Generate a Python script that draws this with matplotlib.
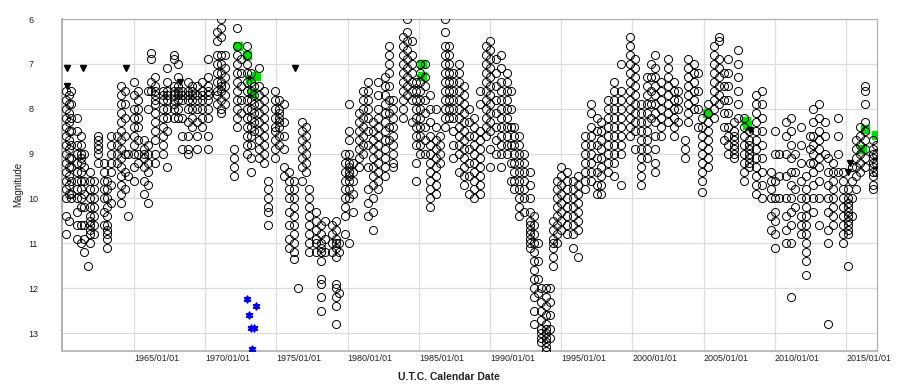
import matplotlib
matplotlib.use("Agg")
import matplotlib.pyplot as plt

plt.rcParams['font.family'] = ['Liberation Sans', 'DejaVu Sans']

# ---- visual observations: each column = (date in decimal years, magnitudes) ----
col_dates = [
    1960.2, 1960.4, 1960.6,
    1961.0, 1961.25, 1961.5, 1961.8,
    1961.9, 1962.2, 1962.45,
    1962.9, 1963.1, 1963.35,
    1963.8, 1964.1, 1964.35, 1964.6,
    1965.0, 1965.3,
    1965.7, 1966.0, 1966.2,
    1966.5,
    1967.0, 1967.3,
    1967.8, 1968.1, 1968.35,
    1968.8, 1969.1, 1969.4,
    1969.8, 1970.2,
    1970.8, 1971.1, 1971.4,
    1972.0, 1972.2, 1972.5,
    1972.9, 1973.2, 1973.45,
    1973.8, 1974.1, 1974.4,
    1974.9, 1975.2, 1975.5,
    1975.9, 1976.2, 1976.5,
    1976.8, 1977.1, 1977.3,
    1977.8, 1978.1, 1978.4,
    1978.9, 1979.2, 1979.4,
    1979.8, 1980.1, 1980.35,
    1980.8, 1981.1, 1981.45,
    1981.8, 1982.1,
    1982.6, 1982.9, 1983.2,
    1983.9, 1984.2, 1984.5,
    1984.8, 1985.1, 1985.4,
    1985.8, 1986.2, 1986.5,
    1986.8, 1987.1, 1987.4,
    1987.8, 1988.2, 1988.5,
    1988.9, 1989.3,
    1989.7, 1990.0, 1990.4,
    1990.8, 1991.2, 1991.5,
    1991.7, 1992.0, 1992.4,
    1992.8, 1993.1, 1993.35,
    1993.6, 1993.9, 1994.2,
    1994.4, 1994.7, 1995.0,
    1995.4, 1995.8, 1996.2,
    1996.7, 1997.1, 1997.5,
    1997.8, 1998.3,
    1998.7, 1999.2,
    1999.8, 2000.2,
    2000.6, 2001.0, 2001.3,
    2001.6, 2002.0,
    2002.5, 2002.9, 2003.2,
    2003.7, 2003.9, 2004.3, 2004.6,
    2004.9, 2005.3,
    2005.7, 2006.1, 2006.4,
    2006.7, 2007.1, 2007.4,
    2007.8, 2008.2,
    2008.7, 2009.1,
    2009.7, 2010.0, 2010.3,
    2010.8, 2011.1, 2011.4,
    2011.8, 2012.2, 2012.45,
    2012.7, 2013.1, 2013.5,
    2013.7, 2014.1, 2014.4,
    2014.8, 2015.1, 2015.4,
    2015.7, 2016.0, 2016.3,
    2016.9, 2017.1,
]

col_mags = [
    [7.6, 7.8, 8.0, 8.2, 8.4, 8.6, 8.8, 9.0, 9.2, 9.4, 9.6, 9.8, 10.0, 10.4, 10.8],
    [7.7, 7.9, 8.1, 8.3, 8.5, 8.7, 8.9, 9.1, 9.3, 9.5, 9.7, 9.9, 10.5],
    [7.6, 7.9, 8.2, 8.5, 8.8, 9.1, 9.3, 9.6, 9.9, 10.0],
    [8.2, 8.5, 8.8, 9.0, 9.2, 9.4, 9.6, 9.8, 10.0, 10.3, 10.6, 10.9],
    [8.6, 8.8, 9.0, 9.1, 9.2, 9.4, 9.6, 9.8, 10.0, 10.2, 10.6, 11.0],
    [9.0, 9.3, 9.6, 9.9, 10.2, 10.6, 10.9, 11.2],
    [11.5],
    [9.4, 9.6, 9.8, 10.0, 10.2, 10.4, 10.5, 10.6, 10.7, 10.8, 11.0],
    [9.6, 9.8, 10.0, 10.2, 10.4, 10.6, 10.8],
    [8.6, 8.7, 8.8, 8.9, 9.0, 9.2],
    [9.2, 9.4, 9.6, 9.8, 10.0, 10.3, 10.6],
    [9.6, 9.8, 10.0, 10.2, 10.4, 10.6, 10.7, 10.8, 10.9, 11.1],
    [8.6, 8.8, 9.0, 9.2, 9.4, 9.7, 10.1],
    [8.6, 8.8, 9.0, 9.2],
    [7.5, 7.7, 7.9, 8.1, 8.3, 8.5, 8.7, 8.9, 9.1, 9.3, 9.5, 9.7, 9.9, 10.1],
    [7.6, 7.9, 8.2, 8.6, 9.0, 9.4, 9.8],
    [9.0, 9.5, 10.4],
    [7.4, 7.7, 8.0, 8.2, 8.4, 8.6, 8.8, 9.0, 9.3, 9.6],
    [7.6, 7.8, 8.0, 8.2, 8.4, 8.7, 9.0, 9.2],
    [8.7, 8.9, 9.0, 9.1, 9.3, 9.6, 9.9],
    [7.6, 8.0, 8.8, 9.0, 9.2, 9.4, 9.7, 10.1],
    [6.75, 6.9, 7.4, 7.6],
    [7.3, 7.5, 7.6, 7.7, 7.8, 7.9, 8.1, 8.3, 8.5, 8.7, 9.0, 9.2],
    [7.6, 7.7, 7.8, 8.0, 8.2, 8.4, 8.6, 8.8, 9.0],
    [7.1, 7.4, 7.6, 7.7, 7.8, 8.0, 8.2, 8.5, 9.3],
    [6.8, 6.9, 7.5, 7.6, 7.7, 7.8, 7.9, 8.0, 8.2],
    [7.0, 7.3, 7.5, 7.6, 7.7, 7.8, 8.0, 8.2],
    [7.6, 7.7, 7.8, 8.2, 8.6, 8.9],
    [7.4, 7.6, 7.7, 7.8, 8.0, 8.3, 8.6, 8.9, 9.0],
    [7.5, 7.6, 7.7, 7.8, 8.0, 8.2, 8.4],
    [7.5, 7.7, 7.8, 8.0, 8.3, 8.6, 8.9],
    [7.4, 7.6, 7.7, 7.8, 8.0, 8.2, 8.4],
    [6.9, 7.3, 7.5, 7.6, 7.7, 7.8, 8.0, 8.2, 8.6, 8.9],
    [6.3, 6.5, 6.8, 7.0, 7.2, 7.4, 7.6, 7.7, 7.9],
    [6.0, 6.2, 6.4, 6.8, 7.0, 7.2, 7.4, 7.5, 7.6, 7.8, 8.0, 8.1],
    [6.8, 7.1, 7.3, 7.5, 7.7, 7.9],
    [8.9, 9.1, 9.3, 9.5],
    [6.2, 6.6, 6.8, 7.0, 7.2, 7.4, 7.6, 7.8, 8.0, 8.2, 8.4],
    [6.9, 7.2, 7.5, 7.8, 8.1],
    [6.6, 6.8, 7.0, 7.2, 7.4, 7.6, 7.8, 8.0, 8.2, 8.4, 8.6, 8.8, 9.0],
    [7.2, 7.4, 7.6, 7.8, 8.0, 8.2, 8.4, 8.6, 8.8, 9.1, 9.4],
    [7.5, 7.7, 7.9, 8.1, 8.3, 8.5],
    [7.1, 7.5, 7.7, 7.9, 8.1, 8.3, 8.5, 8.7, 8.9, 9.1],
    [7.6, 7.8, 8.0, 8.2, 8.4, 8.6, 8.8, 9.0, 9.2],
    [9.6, 9.8, 10.0, 10.2, 10.3, 10.6],
    [7.6, 7.8, 8.0, 8.2, 8.4, 8.5, 8.7, 8.9, 9.1],
    [7.8, 8.0, 8.1, 8.2, 8.3, 8.4, 8.6, 8.8],
    [7.9, 8.3, 8.6, 8.9, 9.3, 9.5],
    [9.4, 9.6, 9.8, 10.0, 10.3, 10.6, 10.9, 11.1],
    [9.6, 9.8, 10.0, 10.2, 10.4, 10.6, 10.8, 11.0, 11.2, 11.35],
    [12.0],
    [8.3, 8.5, 8.7, 8.9, 9.1, 9.3, 9.6],
    [8.4, 8.6, 8.8, 9.0, 9.2, 9.4],
    [9.8, 10.0, 10.2, 10.4, 10.6, 10.8, 11.0, 11.2],
    [10.3, 10.5, 10.7, 10.9, 11.0, 11.2],
    [10.6, 10.8, 11.0, 11.1, 11.2, 11.4, 11.8, 11.9, 12.2, 12.5],
    [10.5, 10.9, 11.2],
    [10.6, 10.8, 11.0, 11.2],
    [10.5, 10.7, 10.9, 11.0, 11.1, 11.3, 11.9, 12.0, 12.2, 12.4, 12.8],
    [11.0, 11.2, 12.1],
    [9.0, 9.2, 9.4, 9.6, 9.8, 10.0, 10.2, 10.4, 10.8],
    [7.9, 8.5, 8.7, 9.0, 9.2, 9.3, 9.4, 9.5, 9.6, 9.8, 10.0, 11.0],
    [9.2, 9.4, 9.6, 9.9, 10.3],
    [8.1, 8.3, 8.5, 8.7, 8.9, 9.1, 9.3],
    [7.6, 7.8, 8.0, 8.2, 8.4, 8.6, 8.8, 9.0],
    [7.4, 7.6, 7.8, 8.0, 8.2, 8.5, 8.8, 9.3, 9.8, 10.1, 10.4],
    [8.3, 8.5, 8.7, 8.9, 9.1, 9.3, 9.5, 9.7, 10.0, 10.3, 10.7],
    [7.4, 7.7, 8.0, 8.2, 8.4, 8.6, 8.8, 9.0, 9.2, 9.4, 9.6, 9.8],
    [7.3, 7.5, 7.7, 7.9, 8.1, 8.3, 8.5, 8.7, 8.9, 9.1, 9.3, 9.5],
    [6.6, 6.8, 7.0, 7.2, 7.5, 7.8, 8.1, 8.4, 8.7],
    [7.8, 8.0, 8.2, 8.4, 8.6, 8.8, 9.0, 9.2, 9.3],
    [6.4, 6.6, 6.8, 7.0, 7.2, 7.4, 7.6, 7.8, 8.0, 8.2],
    [6.0, 6.3, 6.5, 6.7, 6.9, 7.1, 7.3, 7.5, 7.7],
    [6.5, 6.8, 7.0, 7.2, 7.4, 7.6, 7.8, 8.3],
    [7.4, 7.6, 7.8, 8.0, 8.2, 8.4, 8.6, 8.8, 9.2, 9.6],
    [7.0, 7.2, 7.4, 7.6, 7.8, 8.0, 8.2, 8.4, 8.6, 8.8, 9.0],
    [7.0, 7.3, 7.5, 7.8, 8.1, 8.4, 8.7, 9.0],
    [7.7, 8.0, 8.3, 8.6, 8.8, 9.0, 9.2, 9.4, 9.6, 9.8, 10.0, 10.2],
    [8.0, 8.4, 8.7, 8.9, 9.1, 9.3, 9.5, 9.7, 9.9],
    [8.6, 8.8, 9.0, 9.2],
    [6.0, 6.3, 6.6, 6.8, 7.0, 7.2, 7.4, 7.6, 7.8, 8.0, 8.2, 8.4],
    [6.6, 6.8, 7.0, 7.2, 7.4, 7.6, 7.8, 8.0, 8.2],
    [7.2, 7.4, 7.6, 7.8, 8.0, 8.2, 8.5, 8.8, 9.1],
    [7.0, 7.2, 7.4, 7.6, 7.8, 8.0, 8.2, 8.4, 8.6, 8.8, 9.0, 9.4],
    [7.5, 7.7, 7.9, 8.1, 8.3, 8.5, 8.7, 8.9, 9.1, 9.3, 9.5, 9.7],
    [8.0, 8.3, 8.6, 8.9, 9.2, 9.5, 9.9],
    [8.2, 8.4, 8.6, 8.8, 9.0, 9.2, 9.4, 9.6, 9.8, 10.0],
    [7.6, 7.9, 8.5, 8.7, 8.9, 9.1, 9.3, 9.5, 9.7, 9.9],
    [6.6, 6.8, 7.0, 7.2, 7.4, 7.6, 7.8, 8.0, 8.2, 8.4, 8.6],
    [6.5, 6.7, 6.9, 7.1, 7.3, 7.5, 7.7, 7.9, 8.1, 8.3, 8.5, 8.9, 9.3],
    [6.9, 7.2, 7.5, 7.8, 8.1, 8.4, 8.7, 9.0],
    [6.8, 7.1, 7.4, 7.6, 7.8, 8.0, 8.2, 8.4, 8.6, 8.8, 9.0, 9.3],
    [7.2, 7.4, 7.6, 7.8, 8.0, 8.2, 8.4, 8.6, 8.8, 9.0],
    [7.6, 8.0, 8.4, 8.8, 9.2, 9.6],
    [8.4, 8.6, 8.8, 9.0, 9.2, 9.4, 9.6, 9.8],
    [8.6, 8.8, 9.0, 9.2, 9.4, 9.6, 9.8, 10.0, 10.2, 10.4],
    [9.0, 9.2, 9.4, 9.6, 9.8, 10.0, 10.3],
    [9.4, 9.7, 10.0, 10.3, 10.5, 10.6, 10.7, 10.8, 10.9, 11.0, 11.1],
    [10.4, 10.6, 10.8, 11.0, 11.2, 11.4, 11.6, 11.8, 12.0, 12.2, 12.5, 12.8],
    [11.0, 11.4, 11.8, 12.1],
    [12.0, 12.3, 12.5, 12.7, 12.9, 13.0, 13.1, 13.2],
    [12.0, 12.2, 12.4, 12.6, 12.8, 12.9, 13.0, 13.1, 13.2, 13.3, 13.4],
    [12.0, 12.3, 12.6, 12.9, 13.1],
    [10.5, 10.7, 10.9, 11.0, 11.1, 11.3, 11.5],
    [9.6, 9.8, 10.0, 10.2, 10.4, 10.6, 10.8, 11.0],
    [9.3, 9.5, 9.7, 9.9, 10.1, 10.3, 10.5, 10.7],
    [9.4, 9.6, 9.8, 10.0, 10.2, 10.4, 10.6, 10.8],
    [9.6, 9.8, 10.0, 10.2, 10.4, 10.6, 10.8, 11.1],
    [9.5, 9.7, 9.9, 10.1, 10.3, 10.5, 10.7, 11.3],
    [8.6, 8.8, 9.0, 9.2, 9.4, 9.6, 9.8],
    [7.9, 8.1, 8.4, 8.6, 8.8, 9.0, 9.2, 9.4, 9.6],
    [8.2, 8.5, 8.8, 9.1, 9.4, 9.7, 9.9],
    [8.3, 8.5, 8.7, 8.9, 9.1, 9.3, 9.5, 9.7, 9.9],
    [7.8, 8.0, 8.2, 8.4, 8.6, 8.8, 9.0, 9.2, 9.4],
    [7.4, 7.6, 7.8, 8.0, 8.2, 8.4, 8.6, 8.8, 9.0, 9.2, 9.5],
    [7.0, 7.6, 7.8, 8.0, 8.2, 8.4, 8.6, 8.8, 9.0, 9.7],
    [6.4, 6.6, 6.8, 7.0, 7.2, 7.4, 7.6, 7.8, 8.0, 8.2, 8.4, 8.6],
    [6.9, 7.1, 7.3, 7.5, 7.7, 7.9, 8.1, 8.3, 8.5, 8.9],
    [7.9, 8.1, 8.3, 8.5, 8.7, 8.9, 9.1, 9.3, 9.5, 9.7],
    [7.3, 7.5, 7.7, 7.9, 8.1, 8.3, 8.5, 8.7, 8.9, 9.1],
    [7.0, 7.3, 7.6, 7.9, 8.2],
    [6.8, 7.1, 7.3, 7.5, 7.7, 7.9, 8.1, 8.3, 8.6, 8.9, 9.2, 9.4],
    [7.4, 7.6, 7.8, 8.0, 8.2, 8.4, 8.6],
    [6.9, 7.1, 7.3, 7.5, 7.7, 7.9, 8.1, 8.3],
    [7.4, 7.6, 7.8, 8.0, 8.2, 8.4, 8.6],
    [7.6, 7.8, 8.0, 8.3],
    [8.7, 8.9, 9.1],
    [6.9, 7.1, 7.3, 7.5, 7.7, 7.9, 8.1, 8.3],
    [7.0, 7.2, 7.4, 7.6, 7.8, 8.0],
    [7.2, 7.6, 8.0, 8.4],
    [8.2, 8.4, 8.6, 8.8, 9.0, 9.2, 9.4, 9.6, 9.85],
    [7.9, 8.1, 8.3, 8.5, 8.7, 8.9, 9.1, 9.3],
    [6.6, 6.8, 7.0, 7.2, 7.4, 7.6, 7.8, 8.0, 8.2],
    [6.4, 6.5, 6.9, 7.1, 7.3, 7.5, 7.7, 7.9],
    [7.2, 7.5, 7.8, 8.1, 8.4, 8.7],
    [6.9, 7.2, 7.5, 7.8, 8.1, 8.4, 8.6, 8.8, 9.0],
    [8.3, 8.5, 8.6, 8.7, 8.8, 8.9, 9.0, 9.1],
    [6.7, 7.0, 7.3, 7.6, 7.9, 8.2],
    [8.2, 8.4, 8.6, 8.8, 9.0, 9.2, 9.4, 9.6],
    [8.5, 8.7, 8.8, 8.9, 9.0, 9.1, 9.2, 9.3],
    [7.7, 7.9, 8.1, 8.3, 8.5, 8.7, 8.9, 9.1, 9.3, 9.5, 9.7, 9.9],
    [7.6, 7.9, 8.2, 8.5, 8.8, 9.1, 9.4, 9.7, 10.0],
    [9.4, 9.6, 9.8, 10.0, 10.4, 10.7],
    [8.5, 9.0, 9.6, 10.0, 10.3, 10.5, 10.8, 11.1],
    [9.0, 9.5, 10.0],
    [8.3, 8.6, 9.0, 9.5, 10.0, 10.4, 10.7, 11.0],
    [8.2, 8.5, 8.8, 9.1, 9.4, 9.7, 10.0, 10.3, 10.6, 11.0, 12.2],
    [9.0, 9.4, 9.8, 10.2],
    [8.4, 8.8, 9.2, 9.6, 10.0, 10.4, 10.6, 10.8],
    [9.5, 9.8, 10.0, 10.2, 10.4, 10.6, 10.8, 11.0, 11.2, 11.4, 11.7],
    [8.6, 8.9, 9.2],
    [8.0, 8.3, 8.6, 8.8, 9.0, 9.2, 9.4, 9.7, 10.0, 10.3],
    [7.9, 8.2, 8.5, 8.7, 8.9, 9.1, 9.3, 9.6, 10.0, 10.6],
    [8.3, 8.6, 9.0],
    [9.1, 9.4, 9.7, 10.0, 10.3, 10.7, 11.0, 12.8],
    [9.2, 9.4, 9.6, 9.8, 10.0, 10.2, 10.4, 10.6],
    [8.2, 8.6, 9.0, 9.4],
    [9.4, 9.6, 9.8, 10.0, 10.2, 10.4, 10.6, 10.8, 11.0],
    [9.8, 10.0, 10.1, 10.2, 10.3, 10.4, 10.5, 10.6, 10.7, 10.8, 11.5],
    [9.3, 9.6, 10.0, 10.4],
    [8.7, 8.9, 9.1, 9.3, 9.5, 9.8],
    [8.4, 8.6, 8.8, 9.0, 9.2, 9.4],
    [7.5, 7.6, 7.9, 8.3, 8.5, 8.7, 8.9, 9.1, 9.3],
    [8.7, 8.9, 9.0, 9.1, 9.2, 9.3, 9.4, 9.5, 9.7, 9.8],
    [8.8, 9.0, 9.2, 9.4],
]

# fainter-than observations (down triangles)
fainter_dates = [1960.27, 1960.27, 1961.44, 1964.44, 1968.2, 1976.31, 2008.25, 2015.25, 2015.1]
fainter_mags = [7.1, 7.5, 7.1, 7.1, 7.4, 7.1, 8.47, 9.2, 9.4]

# V-band observations (green squares)
v_dates = [1972.3, 1972.9, 1973.15, 1973.55, 1973.3, 1985.25, 1985.25,
           2005.2, 2008.0, 2008.05, 2016.3, 2017.1, 2016.15]
v_mags = [6.6, 6.8, 7.33, 7.27, 7.64, 7.0, 7.27, 8.1, 8.27, 8.37, 8.45, 8.58, 8.9]

# blue-band observations (blue stars)
b_dates = [1972.9, 1973.55, 1973.08, 1973.2, 1973.4, 1973.3]
b_mags = [12.23, 12.4, 12.6, 12.88, 12.88, 13.36]

tick_years = [1965, 1970, 1975, 1980, 1985, 1990, 1995, 2000, 2005, 2010, 2015]
tick_labels = [f"{y}/01/01" for y in tick_years]
mag_ticks = [6, 7, 8, 9, 10, 11, 12, 13]

# ---- figure ----
W, H = 898, 388
fig = plt.figure(figsize=(W / 100, H / 100), dpi=100)
ax = fig.add_axes([62 / W, 1 - 351 / H, (877 - 62) / W, (351 - 19) / H])

xs, ys = [], []
for d, ms in zip(col_dates, col_mags):
    xs.extend([d] * len(ms))
    ys.extend(ms)

ax.plot(v_dates, v_mags, ls='none', marker='s', ms=6.2, mfc='#00dd00', mec='#00dd00', zorder=3)
ax.plot(xs, ys, ls='none', marker='o', ms=5.8, mfc='none', mec='black', mew=0.7, zorder=4)
ax.plot(fainter_dates, fainter_mags, ls='none', marker='v', ms=5.0, color='black', zorder=5)
ax.plot(b_dates, b_mags, ls='none', marker=(6, 1, 0), ms=5.5, color='#0000ee', zorder=5)

ax.set_xlim(1959.94, 2017.17)
ax.set_ylim(13.4, 6.0)

ax.set_xticks(tick_years)
ax.set_xticklabels(tick_labels, ha='left')
ax.set_yticks(mag_ticks)
ax.set_yticklabels([str(m) for m in mag_ticks], ha='left')
ax.tick_params(axis='x', length=0, pad=2.5, labelsize=6.5, colors='#222222')
ax.tick_params(axis='y', length=0, pad=24, labelsize=6.5, colors='#222222')

ax.grid(True, color='#dddddd', lw=0.9)
ax.set_axisbelow(True)
for s in ax.spines.values():
    s.set_color('#b0b0b0')
    s.set_linewidth(0.9)
ax.spines['left'].set_linewidth(1.4)
ax.spines['bottom'].set_linewidth(1.2)

fig.text(18 / W, 1 - 184 / H, 'Magnitude', rotation=90, ha='center', va='center',
         fontsize=7, color='#222222')
fig.text(0.5, 1 - 377.5 / H, 'U.T.C. Calendar Date', ha='center', va='center',
         fontsize=7.5, fontweight='bold', color='#222222')

fig.savefig('out.png', dpi=100)
